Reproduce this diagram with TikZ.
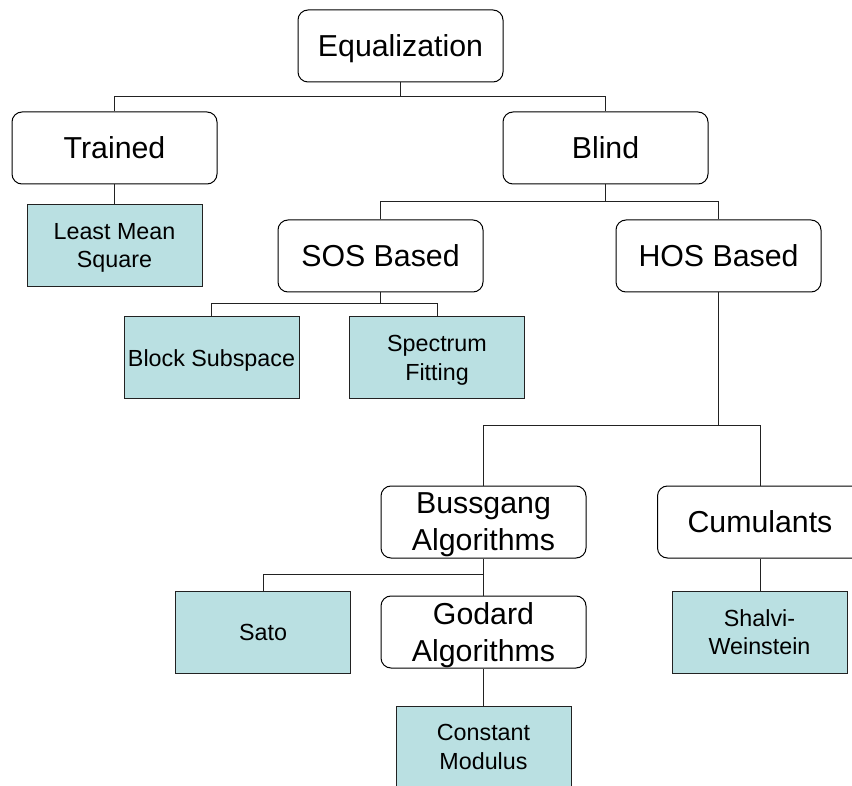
\documentclass[tikz,border=0pt]{standalone}
\usepackage{fontspec}
\setmainfont{Liberation Sans}
\definecolor{teal1}{HTML}{BAE0E2}
\definecolor{edge}{HTML}{222222}
\begin{document}
\begin{tikzpicture}[x=1pt,y=-1pt,
  catbox/.style={draw=black,line width=1pt,rounded corners=10pt,fill=white,
    minimum width=205pt,minimum height=72pt,inner sep=0pt,align=center,
    text depth=0pt,font=\fontsize{30.3}{37}\selectfont},
  leafbox/.style={draw=edge,line width=1pt,fill=teal1,
    minimum width=175pt,minimum height=82pt,inner sep=0pt,align=center,
    text depth=0pt,font=\fontsize{23.3}{28.3}\selectfont},
  link/.style={draw=edge,line width=1pt}]
\useasboundingbox (0,0) rectangle (852,786);
% category boxes
\node[catbox] (eq) at (400.5,46) {Equalization};
\node[catbox] (tr) at (114.5,148) {Trained};
\node[catbox] (bl) at (605.5,148) {Blind};
\node[catbox] (sos) at (380.5,256) {SOS Based};
\node[catbox] (hos) at (718.5,256) {HOS Based};
\node[catbox] (bus) at (483.5,522) {Bussgang\\Algorithms};
\node[catbox] (cum) at (760,522) {Cumulants};
\node[catbox] (god) at (483.5,632) {Godard\\Algorithms};
% leaf boxes
\node[leafbox] (lms) at (114.5,245.5) {Least Mean\\Square};
\node[leafbox] (bss) at (211.5,358) {Block Subspace};
\node[leafbox] (spf) at (437,358) {Spectrum\\Fitting};
\node[leafbox] (sat) at (263,632) {Sato};
\node[leafbox] (shw) at (759.5,632) {Shalvi-\\Weinstein};
\node[leafbox] (cmo) at (483.5,747) {Constant\\Modulus};
% connectors
\draw[link] (eq.south) |- (114.5,97) -- (tr.north);
\draw[link] (eq.south) |- (605.5,97) -- (bl.north);
\draw[link] (tr.south) -- (lms.north);
\draw[link] (bl.south) |- (380.5,202) -- (sos.north);
\draw[link] (bl.south) |- (718.5,202) -- (hos.north);
\draw[link] (sos.south) |- (211.5,304) -- (bss.north);
\draw[link] (sos.south) |- (437,304) -- (spf.north);
\draw[link] (hos.south) |- (483.5,426) -- (bus.north);
\draw[link] (hos.south) |- (760,426) -- (cum.north);
\draw[link] (bus.south) |- (263,574) -- (sat.north);
\draw[link] (bus.south) -- (god.north);
\draw[link] (cum.south) -- (cum.south |- shw.north);
\draw[link] (god.south) -- (cmo.north);
\end{tikzpicture}
\end{document}
